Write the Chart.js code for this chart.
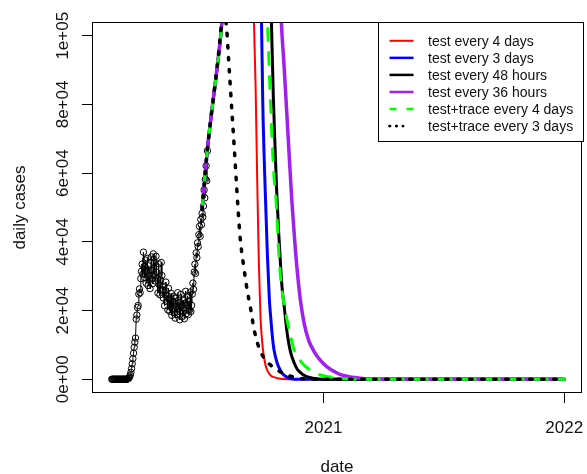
<!DOCTYPE html>
<html>
<head>
<meta charset="utf-8">
<title>daily cases</title>
<script src="https://cdn.jsdelivr.net/npm/chart.js@4.4.1/dist/chart.umd.min.js"></script>
<style>
  html, body { margin: 0; padding: 0; background: #fff; }
</style>
</head>
<body>
<canvas id="casesChart" width="587" height="474"></canvas>
<script>
/* ── Data (x = days from 1 Jan 2021) ─────────────────────────── */
const yearTicks  = [0, 365];
const yearLabels = ['2021', '2022'];
const caseTicks  = [0, 20000, 40000, 60000, 80000, 100000];
const caseLabels = ['0e+00', '2e+04', '4e+04', '6e+04', '8e+04', '1e+05'];

// reported daily cases, one value per day starting at obsFirstDay
const obsFirstDay = -321;
const obsCases = [
  0, 0, 0, 0, 0, 0, 0, 0, 0, 0, 0, 0, 0, 0, 0, 0, 0, 0, 0, 0, 0, 0, 0, 0, 100,
  200, 400, 700, 1200, 2000, 3100, 4500, 6000, 7600, 9300, 10800, 12000,
  17500, 18700, 20900, 21500, 24800, 26300, 25200, 29300, 31400, 33500, 30600, 37000,
  32800, 29500, 34700, 28000, 31500, 35200, 27300, 33000, 30100, 26400, 31800, 35600,
  29200, 27800, 36500, 30500, 33900, 28600,
  35800, 31200, 29400, 25100, 33600, 27500, 24600, 28900, 34000, 30200, 26000, 23700,
  27100, 21400, 25800, 28300, 22600, 24400, 20200, 26500,
  23300, 19800, 21900, 25000, 18600, 22700, 20600, 24100, 19300, 17800, 23600, 21100,
  18900, 25200, 20400, 22300, 17300, 19600, 24700, 21800, 18300, 23000, 20800, 17600,
  22100, 25600, 19100, 21500, 24300, 18800, 22800, 20100, 25400, 19700,
  21500, 24800, 28000, 26200, 31200, 33500, 30800, 36800, 35400, 39700, 38600, 42100,
  44500, 41600, 46500, 45000, 48300, 47200, 50400, 55100, 52800, 58200, 62100, 57800, 66500
];

// model projections: common start, then each scenario
const riseDays  = [-184, -180, -176, -169, -161, -154];
const riseCases = [49400, 58500, 67000, 78700, 91200, 104400];

const test4Days  = [-145, -125, -105.5, -103, -100.5, -98, -95.5, -93, -91, -88, -85, -80, -75, -68, -60, -52, 365];
const test4Cases = [150000, 220000, 104500, 86000, 58000, 34000, 18200, 11000, 7500, 4200, 2500, 1100, 600, 200, 50, 0, 0];

const test3Days  = [-140, -115, -94, -92, -88, -85, -82, -80, -77, -75, -70, -65, -60, -50, -43, 365];
const test3Cases = [170000, 240000, 104500, 80000, 53000, 36000, 23000, 18000, 11500, 8500, 4600, 2500, 1200, 200, 0, 0];

const test48hDays  = [-135, -105, -79, -76, -73.5, -71, -68, -65, -62.5, -60, -57, -54, -50, -45, -40, -34, -28, -18, -8, 0, 365];
const test48hCases = [180000, 260000, 104500, 82000, 68000, 55000, 43000, 33000, 26000, 22000, 16500, 12000, 8000, 5000, 3000, 1800, 1000, 400, 100, 0, 0];

const test36hDays  = [-130, -95, -64, -60, -56, -52, -48, -42.6, -38.5, -35, -29, -22.6, -14, -5, 5, 17.6, 30, 47.8, 62, 80, 365];
const test36hCases = [190000, 280000, 104500, 92000, 78700, 65200, 52000, 37700, 29000, 23100, 16000, 11400, 8000, 5600, 3700, 2100, 1100, 500, 150, 0, 0];

const trace4Days  = [-140, -110, -85, -82, -78, -75, -72, -69, -66.5, -63, -59, -55, -50.5, -45, -42.6, -40, -35, -28, -18, -12.5, 0, 12, 17.6, 30, 45, 365];
const trace4Cases = [170000, 250000, 104500, 89000, 70000, 59000, 52300, 41000, 33000, 26000, 21000, 17000, 13200, 8800, 7500, 6600, 5400, 3800, 2500, 1800, 1000, 600, 350, 120, 0, 0];

const trace3Days  = [-151.5, -146.6, -144, -141, -138, -135, -131.5, -127, -124, -120.5, -117, -113, -110, -105.5, -100, -95, -88, -80, -70, -62, -50, -40, -30, -20, 365];
const trace3Cases = [108000, 101500, 93500, 84500, 75500, 66500, 55500, 42700, 37000, 32300, 27500, 23100, 20000, 14800, 10500, 7900, 5600, 4100, 2700, 1800, 900, 400, 120, 0, 0];

const scenarioNames = [
  'test every 4 days', 'test every 3 days', 'test every 48 hours',
  'test every 36 hours', 'test+trace every 4 days', 'test+trace every 3 days'
];

/* ── Helpers ─────────────────────────────────────────────────── */
const FONT = "'Liberation Sans', Arial, sans-serif";

function toPoints(days, cases) {
  const xs = riseDays.concat(days);
  const ys = riseCases.concat(cases);
  return xs.map((d, i) => ({ x: d, y: ys[i] }));
}

function scenario(label, days, cases, style) {
  return Object.assign({
    label,
    data: toPoints(days, cases),
    pointRadius: 0,
    fill: false,
    clip: 0,
    cubicInterpolationMode: 'monotone',
    borderCapStyle: 'round',
    borderJoinStyle: 'round',
  }, style);
}

/* ── Frame, axis text and legend ─────────────────────────────── */
const rPlotDecor = {
  id: 'rPlotDecor',
  afterDraw(chart) {
    const { ctx, chartArea: a, scales: { x, y } } = chart;
    ctx.save();

    // box around the plot region
    ctx.strokeStyle = '#000';
    ctx.lineWidth = 1;
    ctx.strokeRect(a.left + 0.5, a.top + 0.5, a.right - a.left - 1, a.bottom - a.top - 1);

    ctx.fillStyle = '#111';
    ctx.font = `17px ${FONT}`;

    // y tick labels, written vertically
    caseTicks.forEach((v, i) => {
      ctx.save();
      ctx.translate(68, y.getPixelForValue(v));
      ctx.rotate(-Math.PI / 2);
      ctx.textAlign = 'center';
      ctx.textBaseline = 'alphabetic';
      ctx.fillText(caseLabels[i], 0, 0);
      ctx.restore();
    });

    // x tick labels
    ctx.textAlign = 'center';
    ctx.textBaseline = 'alphabetic';
    yearTicks.forEach((v, i) => ctx.fillText(yearLabels[i], x.getPixelForValue(v), 433));

    // axis titles
    ctx.fillText('date', (a.left + a.right) / 2, 472);
    ctx.save();
    ctx.translate(25, (a.top + a.bottom) / 2);
    ctx.rotate(-Math.PI / 2);
    ctx.fillText('daily cases', 0, 0);
    ctx.restore();

    // legend box
    const bx = 378.5, by = 22.5, bw = 205, bh = 119;
    ctx.fillStyle = '#fff';
    ctx.fillRect(bx, by, bw, bh);
    ctx.strokeStyle = '#000';
    ctx.lineWidth = 1;
    ctx.strokeRect(bx, by, bw, bh);

    ctx.font = `14px ${FONT}`;
    ctx.textAlign = 'left';
    chart.data.datasets.filter(d => d.legendDash).forEach((d, i) => {
      const ly = 40.8 + i * 17.06;
      ctx.save();
      ctx.strokeStyle = d.borderColor;
      ctx.lineWidth = d.legendWidth;
      ctx.lineCap = d.legendCap;
      ctx.setLineDash(d.legendDash);
      ctx.beginPath();
      ctx.moveTo(389.5, ly);
      ctx.lineTo(d.legendEnd, ly);
      ctx.stroke();
      ctx.restore();
      ctx.fillStyle = '#111';
      ctx.fillText(d.label, 428, ly + 5.3);
    });

    ctx.restore();
  }
};

/* ── Chart ───────────────────────────────────────────────────── */
const datasets = [
  {
    label: 'reported',
    data: obsCases.map((v, i) => ({ x: obsFirstDay + i, y: v })),
    borderColor: '#000',
    borderWidth: 1,
    pointRadius: 3.2,
    pointBorderWidth: 1,
    pointBorderColor: '#000',
    pointBackgroundColor: 'rgba(0,0,0,0)',
    tension: 0,
    clip: 0,
    order: 7,
  },
  scenario(scenarioNames[0], test4Days, test4Cases, {
    borderColor: '#ff0000', borderWidth: 2, order: 6,
    legendDash: [], legendWidth: 2, legendCap: 'butt', legendEnd: 413.5,
  }),
  scenario(scenarioNames[1], test3Days, test3Cases, {
    borderColor: '#0000ff', borderWidth: 3, order: 5,
    legendDash: [], legendWidth: 2.5, legendCap: 'butt', legendEnd: 413.5,
  }),
  scenario(scenarioNames[2], test48hDays, test48hCases, {
    borderColor: '#000000', borderWidth: 3, order: 4,
    legendDash: [], legendWidth: 2.5, legendCap: 'butt', legendEnd: 413.5,
  }),
  scenario(scenarioNames[3], test36hDays, test36hCases, {
    borderColor: '#a020f0', borderWidth: 3.5, order: 3,
    legendDash: [], legendWidth: 2.5, legendCap: 'butt', legendEnd: 413.5,
  }),
  scenario(scenarioNames[4], trace4Days, trace4Cases, {
    borderColor: '#00ff00', borderWidth: 3, borderDash: [12, 12], order: 2,
    legendDash: [7, 10], legendWidth: 2.5, legendCap: 'butt', legendEnd: 413.5,
  }),
  scenario(scenarioNames[5], trace3Days, trace3Cases, {
    borderColor: '#000000', borderWidth: 3.5, borderDash: [2.5, 9.5], order: 1,
    legendDash: [0.5, 6.2], legendWidth: 2.8, legendCap: 'round', legendEnd: 403,
  }),
];

new Chart(document.getElementById('casesChart').getContext('2d'), {
  type: 'line',
  data: { datasets },
  options: {
    responsive: false,
    animation: false,
    events: [],
    layout: { padding: { top: 22, right: 2, left: 0, bottom: 0 } },
    plugins: {
      legend: { display: false },
      tooltip: { enabled: false },
    },
    scales: {
      x: {
        type: 'linear',
        min: -351,
        max: 392,
        afterBuildTicks: s => { s.ticks = yearTicks.map(v => ({ value: v })); },
        afterFit: s => { s.height = 81; },
        ticks: { display: false },
        border: { display: false },
        grid: { drawOnChartArea: false, drawTicks: true, tickLength: 10, tickColor: '#000', tickWidth: 1 },
      },
      y: {
        type: 'linear',
        min: -4000,
        max: 104000,
        afterBuildTicks: s => { s.ticks = caseTicks.map(v => ({ value: v })); },
        afterFit: s => { s.width = 92; },
        ticks: { display: false },
        border: { display: false },
        grid: { drawOnChartArea: false, drawTicks: true, tickLength: 10, tickColor: '#000', tickWidth: 1 },
      },
    },
  },
  plugins: [rPlotDecor],
});
</script>
</body>
</html>
